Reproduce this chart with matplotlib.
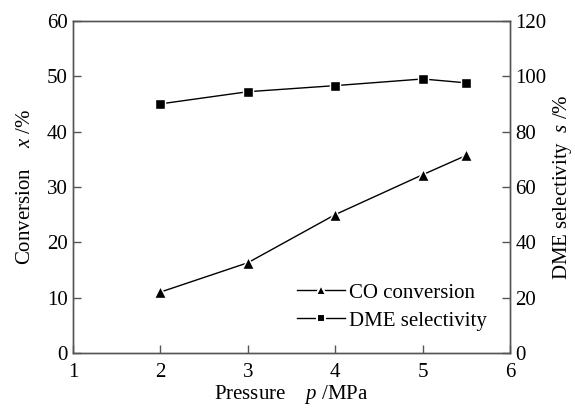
import matplotlib
matplotlib.use("Agg")
import matplotlib.pyplot as plt
from matplotlib.lines import Line2D

plt.rcParams['font.family'] = ['Liberation Serif', 'DejaVu Serif']
plt.rcParams['mathtext.fontset'] = 'custom'
plt.rcParams['mathtext.rm'] = 'Liberation Serif'
plt.rcParams['mathtext.it'] = 'Liberation Serif:italic'

# data
pressure = [2, 3, 4, 5, 5.5]
co_conversion = [11.0, 16.3, 25.0, 32.2, 35.7]
dme_selectivity = [90.0, 94.4, 96.6, 99.0, 97.6]

x_ticks = [1, 2, 3, 4, 5, 6]
left_ticks = [0, 10, 20, 30, 40, 50, 60]
right_ticks = [0, 20, 40, 60, 80, 100, 120]

fs = 15

fig = plt.figure(figsize=(5.75, 4.09), dpi=100)
ax = fig.add_axes([0.127, 0.137, 0.76, 0.812])
ax2 = ax.twinx()

spine_col = '#555555'
for a in (ax, ax2):
    for s in a.spines.values():
        s.set_color(spine_col)
        s.set_linewidth(1.0)

mk = dict(color='black', lw=1.0, markeredgecolor='white',
          markeredgewidth=1.0, markerfacecolor='black')
l1, = ax.plot(pressure, co_conversion, marker='^', markersize=9, **mk)
l2, = ax2.plot(pressure, dme_selectivity, marker='s', markersize=7.5, **mk)

ax.set_xlim(1, 6)
ax.set_ylim(0, 60)
ax2.set_ylim(0, 120)
ax.set_xticks(x_ticks)
ax.set_yticks(left_ticks)
ax2.set_yticks(right_ticks)

ax.tick_params(axis='both', direction='in', length=6, width=1, color=spine_col,
               labelsize=fs, pad=4)
ax.tick_params(axis='x', pad=7)
ax.tick_params(top=False, right=False)
ax2.tick_params(axis='y', direction='in', length=6, width=1, color=spine_col,
                labelsize=fs, pad=4)

ax.set_ylabel('Conversion    $x$ /%', fontsize=fs, labelpad=8)
ax2.set_ylabel('DME selectivity  $s$ /%', fontsize=fs, labelpad=3)
ax.set_xlabel('Pressure    $p$ /MPa', fontsize=fs, labelpad=1)

h1 = Line2D([], [], color='black', lw=1.0, marker='^', markersize=7,
            markeredgecolor='white', markeredgewidth=1.5)
h2 = Line2D([], [], color='black', lw=1.0, marker='s', markersize=6,
            markeredgecolor='white', markeredgewidth=1.5)
ax.legend([h1, h2], ['CO conversion', 'DME selectivity'], loc='lower right',
          bbox_to_anchor=(0.975, 0.03), frameon=False, fontsize=fs,
          handlelength=2.3, handletextpad=0.2, labelspacing=0.4,
          borderaxespad=0.2)

fig.savefig('out.png', dpi=100)
